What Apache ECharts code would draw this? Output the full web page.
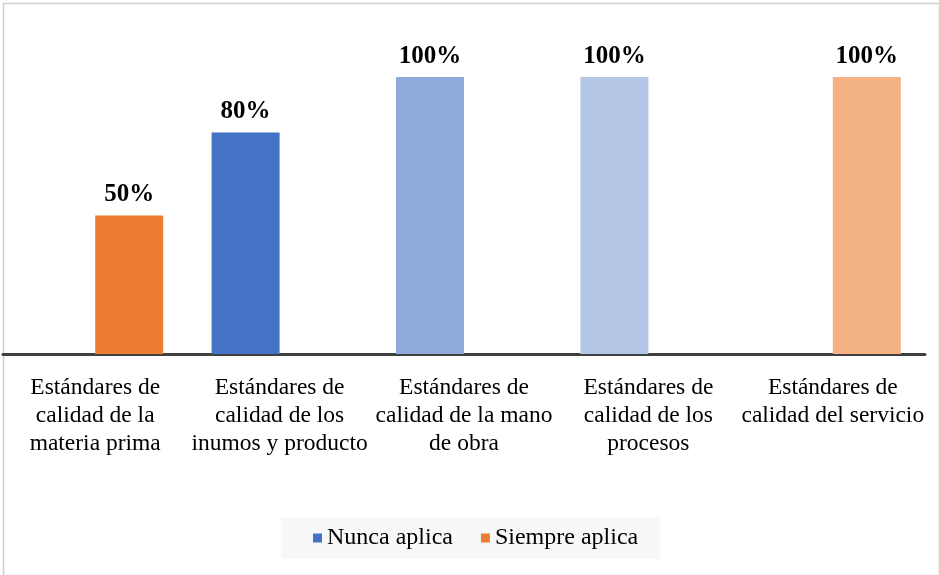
<!DOCTYPE html>
<html>
<head>
<meta charset="utf-8">
<script src="https://cdn.jsdelivr.net/npm/echarts@6/dist/echarts.min.js"></script>
<style>
  html, body { margin: 0; padding: 0; background: #fff; }
  #chart { width: 939px; height: 575px; }
</style>
</head>
<body>
<div id="chart"></div>
<script>
  // categorias y valores (porcentaje)
  const categories = [
    "Estándares de\ncalidad de la\nmateria prima",
    "Estándares de\ncalidad de los\ninumos y producto",
    "Estándares de\ncalidad de la mano\nde obra",
    "Estándares de\ncalidad de los\nprocesos",
    "Estándares de\ncalidad del servicio"
  ];
  const nuncaValues = [null, 80, 100, 100, null];
  const siempreValues = [50, null, null, null, 100];
  const nuncaColors = ["#4472C4", "#4472C4", "#8FAADC", "#B4C7E7", "#4472C4"];
  const siempreColors = ["#ED7D31", "#ED7D31", "#ED7D31", "#ED7D31", "#F4B183"];

  const serif = "'Liberation Serif', 'Times New Roman', serif";

  function items(values, colors) {
    return values.map((v, i) =>
      v == null ? "-" : { value: v, itemStyle: { color: colors[i] } }
    );
  }

  const label = {
    show: true,
    position: "top",
    distance: 8,
    formatter: "{c}%",
    fontFamily: serif,
    fontWeight: "bold",
    fontSize: 25,
    color: "#000"
  };

  const chart = echarts.init(document.getElementById("chart"));
  chart.setOption({
    animation: false,
    graphic: [
      {
        type: "rect",
        left: 1,
        top: 1,
        shape: { width: 936, height: 572 },
        style: { fill: "none", stroke: "#d0d0d0", lineWidth: 1.5 }
      }
    ],
    grid: { left: 3, right: 14, top: 77, bottom: 221 },
    legend: {
      bottom: 16,
      left: 281,
      itemWidth: 9,
      itemHeight: 9,
      itemGap: 28,
      itemTextGap: 7,
      padding: [9, 22, 9, 32],
      backgroundColor: "#f8f8f8",
      icon: "rect",
      textStyle: { fontFamily: serif, fontSize: 24, color: "#000" },
      data: ["Nunca aplica", "Siempre aplica"]
    },
    xAxis: {
      type: "category",
      data: categories,
      axisLine: { lineStyle: { color: "#404040", width: 3 } },
      axisTick: { show: false },
      axisLabel: {
        interval: 0,
        margin: 20,
        fontFamily: serif,
        fontSize: 23.5,
        lineHeight: 28,
        color: "#000"
      }
    },
    yAxis: {
      type: "value",
      min: 0,
      max: 100,
      show: false
    },
    series: [
      {
        name: "Nunca aplica",
        type: "bar",
        barWidth: 68,
        barGap: "0%",
        itemStyle: { color: "#4472C4" },
        label: label,
        data: items(nuncaValues, nuncaColors)
      },
      {
        name: "Siempre aplica",
        type: "bar",
        barWidth: 68,
        barGap: "0%",
        itemStyle: { color: "#ED7D31" },
        label: label,
        data: items(siempreValues, siempreColors)
      }
    ]
  });
</script>
</body>
</html>
